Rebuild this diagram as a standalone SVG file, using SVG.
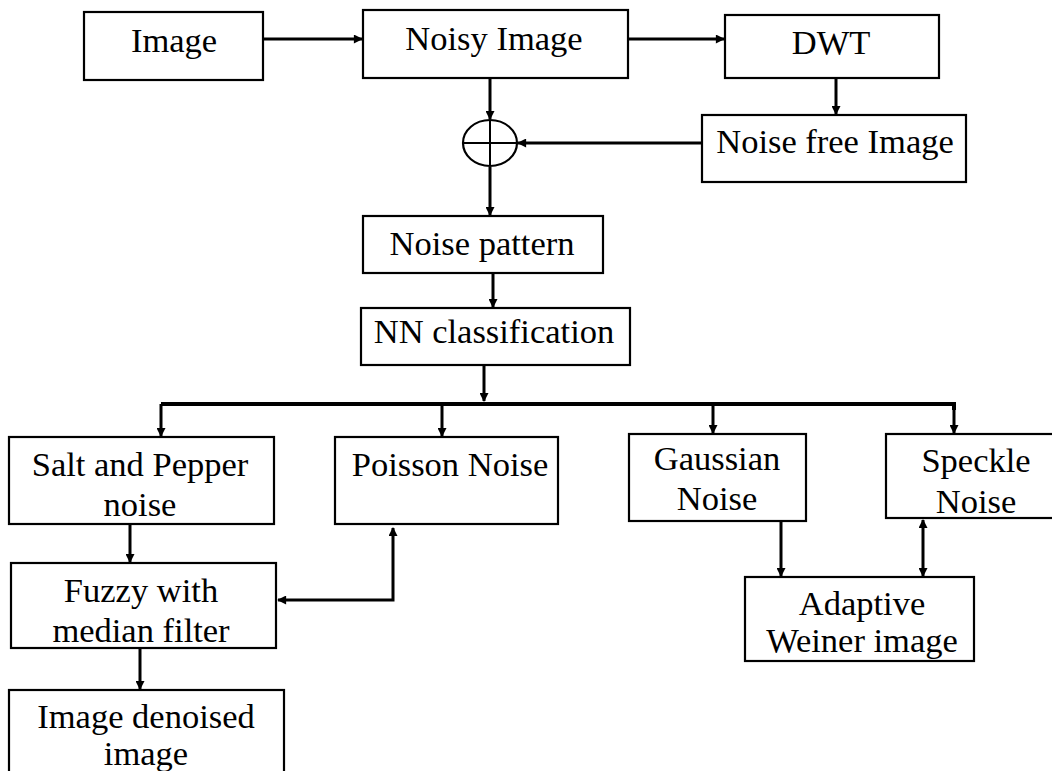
<svg xmlns="http://www.w3.org/2000/svg" width="1052" height="771" viewBox="0 0 1052 771">
<style>
.box{fill:#fff;stroke:#000;stroke-width:2.2}
text{font-size:34.5px;fill:#000;text-anchor:middle}
.c{fill:none;stroke:#000;stroke-width:3}
.b{fill:none;stroke:#000;stroke-width:4}
</style>
<defs>
<marker id="ah" viewBox="0 0 10 10" refX="9" refY="5" markerWidth="3.3" markerHeight="3" orient="auto-start-reverse" markerUnits="strokeWidth">
<path d="M0,0 L10,5 L0,10 z" fill="#000"/>
</marker>
</defs>
<rect width="1052" height="771" fill="#fff"/>
<g id="connectors">
<line class="c" x1="263" y1="39" x2="362" y2="39" marker-end="url(#ah)"/>
<line class="c" x1="628" y1="39" x2="724" y2="39" marker-end="url(#ah)"/>
<line class="c" x1="836" y1="78" x2="836" y2="114" marker-end="url(#ah)"/>
<line class="c" x1="702" y1="143" x2="518" y2="143" marker-end="url(#ah)"/>
<line class="c" x1="490" y1="78" x2="490" y2="119" marker-end="url(#ah)"/>
<line class="c" x1="490" y1="167" x2="490" y2="215" marker-end="url(#ah)"/>
<line class="c" x1="493" y1="273" x2="493" y2="307" marker-end="url(#ah)"/>
<line class="c" x1="484" y1="365" x2="484" y2="401" marker-end="url(#ah)"/>
<path class="b" d="M161,404 H954 V410"/>
<line class="c" x1="161" y1="404" x2="161" y2="436" marker-end="url(#ah)"/>
<line class="c" x1="442" y1="404" x2="442" y2="436" marker-end="url(#ah)"/>
<line class="c" x1="713" y1="404" x2="713" y2="433" marker-end="url(#ah)"/>
<line class="c" x1="954" y1="404" x2="954" y2="433" marker-end="url(#ah)"/>
<line class="c" x1="130" y1="524" x2="130" y2="562" marker-end="url(#ah)"/>
<path class="c" d="M393,528 V600 H278" marker-start="url(#ah)" marker-end="url(#ah)"/>
<line class="c" x1="140" y1="648" x2="140" y2="689" marker-end="url(#ah)"/>
<line class="c" x1="781" y1="521" x2="781" y2="576" marker-end="url(#ah)"/>
<line class="c" x1="923" y1="520" x2="923" y2="576" marker-start="url(#ah)" marker-end="url(#ah)"/>
</g>
<g id="sum">
<ellipse cx="490" cy="143" rx="27" ry="23" fill="none" stroke="#000" stroke-width="2.2"/>
<line x1="463" y1="143" x2="517" y2="143" stroke="#000" stroke-width="2"/>
<line x1="490" y1="120" x2="490" y2="166" stroke="#000" stroke-width="2"/>
</g>
<g font-family="Liberation Serif, DejaVu Serif, serif">
<g id="image"><rect class="box" x="84" y="12" width="179" height="68"/><text x="174" y="52">Image</text></g>
<g id="noisy"><rect class="box" x="363" y="10" width="265" height="68"/><text x="494" y="50">Noisy Image</text></g>
<g id="dwt"><rect class="box" x="725" y="15" width="214" height="63"/><text x="831" y="54">DWT</text></g>
<g id="noisefree"><rect class="box" x="702" y="115" width="264" height="67"/><text x="835" y="153">Noise free Image</text></g>
<g id="pattern"><rect class="box" x="363" y="216" width="240" height="57"/><text x="482" y="255">Noise pattern</text></g>
<g id="nn"><rect class="box" x="361" y="308" width="269" height="57"/><text x="494" y="343">NN classification</text></g>
<g id="salt"><rect class="box" x="9" y="437" width="265" height="87"/><text x="140" y="476">Salt and Pepper</text><text x="140" y="516">noise</text></g>
<g id="poisson"><rect class="box" x="335" y="437" width="223" height="87"/><text x="450" y="476">Poisson Noise</text></g>
<g id="gaussian"><rect class="box" x="629" y="434" width="177" height="87"/><text x="717" y="470">Gaussian</text><text x="717" y="510">Noise</text></g>
<g id="speckle"><rect class="box" x="886" y="434" width="175" height="84"/><text x="976" y="472">Speckle</text><text x="976" y="513">Noise</text></g>
<g id="fuzzy"><rect class="box" x="11" y="563" width="265" height="85"/><text x="141" y="602">Fuzzy with</text><text x="141" y="642">median filter</text></g>
<g id="adaptive"><rect class="box" x="745" y="577" width="229" height="84"/><text x="862" y="615">Adaptive</text><text x="862" y="652">Weiner image</text></g>
<g id="denoised"><rect class="box" x="9" y="690" width="275" height="100"/><text x="146" y="728">Image denoised</text><text x="146" y="765">image</text></g>
</g>
</svg>
